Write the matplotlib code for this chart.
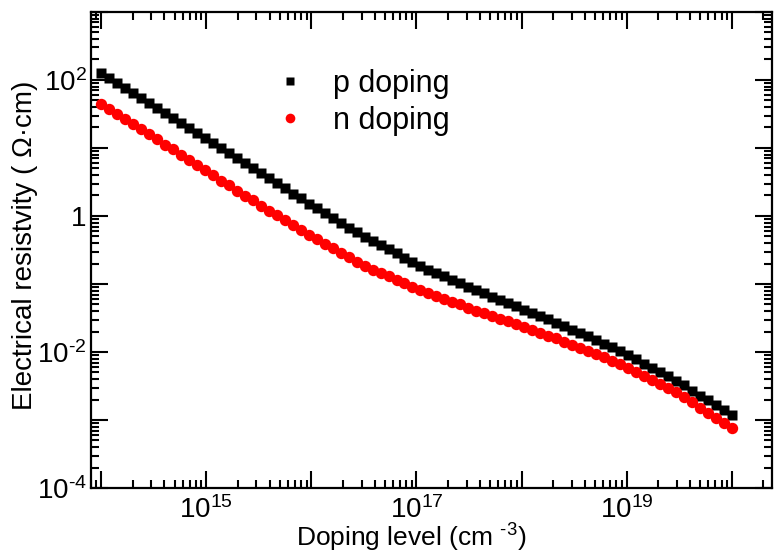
import numpy as np
import matplotlib
matplotlib.use("Agg")
import matplotlib.pyplot as plt
from matplotlib.ticker import FixedLocator, LogLocator, NullFormatter

plt.rcParams["font.family"] = ["Liberation Sans", "DejaVu Sans"]
plt.rcParams["mathtext.fontset"] = "custom"
plt.rcParams["mathtext.rm"] = "Liberation Sans"
plt.rcParams["mathtext.it"] = "Liberation Sans"

# doping grid: 80 points, 1e14 .. 1e20 (cm^-3)
doping = np.logspace(14, 20, 80)

# log10 of resistivity (Ohm cm)
p_log_rho = [
    2.10, 2.03, 1.95, 1.88, 1.81, 1.74, 1.66, 1.59, 1.51, 1.44,
    1.37, 1.29, 1.22, 1.14, 1.07, 1.00, 0.92, 0.85, 0.78, 0.70,
    0.63, 0.56, 0.48, 0.41, 0.33, 0.26, 0.18, 0.11, 0.04, -0.03,
    -0.10, -0.17, -0.24, -0.31, -0.37, -0.43, -0.49, -0.55, -0.62, -0.68,
    -0.74, -0.79, -0.84, -0.89, -0.94, -0.99, -1.05, -1.09, -1.14, -1.19,
    -1.24, -1.28, -1.33, -1.38, -1.42, -1.47, -1.52, -1.57, -1.62, -1.67,
    -1.72, -1.77, -1.83, -1.88, -1.93, -1.99, -2.04, -2.10, -2.17, -2.23,
    -2.30, -2.36, -2.42, -2.49, -2.57, -2.64, -2.71, -2.78, -2.86, -2.93,
]
n_log_rho = [
    1.65, 1.58, 1.50, 1.43, 1.35, 1.28, 1.20, 1.13, 1.05, 0.98,
    0.90, 0.83, 0.75, 0.67, 0.60, 0.52, 0.45, 0.37, 0.30, 0.23,
    0.15, 0.08, 0.01, -0.06, -0.13, -0.21, -0.28, -0.34, -0.41, -0.47,
    -0.54, -0.60, -0.67, -0.73, -0.79, -0.84, -0.89, -0.94, -0.99, -1.04,
    -1.09, -1.13, -1.18, -1.22, -1.26, -1.30, -1.35, -1.39, -1.43, -1.47,
    -1.51, -1.55, -1.59, -1.63, -1.68, -1.72, -1.76, -1.80, -1.85, -1.89,
    -1.94, -1.99, -2.03, -2.08, -2.13, -2.18, -2.23, -2.29, -2.35, -2.41,
    -2.47, -2.53, -2.59, -2.66, -2.74, -2.82, -2.89, -2.97, -3.04, -3.12,
]

x_tick_labels = {15: r"$\mathregular{10^{15}}$", 17: r"$\mathregular{10^{17}}$",
                 19: r"$\mathregular{10^{19}}$"}
y_tick_labels = {2: r"$\mathregular{10^{2}}$", 0: "1",
                 -2: r"$\mathregular{10^{\text{-}2}}$",
                 -4: r"$\mathregular{10^{\text{-}4}}$"}

fig = plt.figure(figsize=(7.74, 5.55), dpi=100)
ax = fig.add_axes([0.1176, 0.1207, 0.8794, 0.8578])

ax.plot(doping, 10 ** np.array(p_log_rho), "s", color="black", ms=7.3,
        mec="none", label="p doping")
ax.plot(doping, 10 ** np.array(n_log_rho), "o", color="red", ms=8.2,
        mec="none", label="n doping")

ax.set_xscale("log")
ax.set_yscale("log")
ax.set_xlim(8.0e13, 2.4e20)
ax.set_ylim(1e-4, 1e3)

xdec = np.arange(14, 21)
ax.xaxis.set_major_locator(FixedLocator(10.0 ** xdec))
ax.set_xticklabels([x_tick_labels.get(d, "") for d in xdec])
ydec = np.arange(-4, 4)
ax.yaxis.set_major_locator(FixedLocator(10.0 ** ydec))
ax.set_yticklabels([y_tick_labels.get(d, "") for d in ydec])
for axis in (ax.xaxis, ax.yaxis):
    axis.set_minor_locator(LogLocator(base=10, subs=np.arange(2, 10), numticks=30))
    axis.set_minor_formatter(NullFormatter())

ax.tick_params(which="both", direction="in", top=True, right=True,
               width=1.5, labelsize=20)
ax.tick_params(which="major", length=12)
ax.tick_params(which="minor", length=6)
ax.tick_params(axis="x", which="major", pad=6)
ax.tick_params(axis="y", which="major", pad=3)
for s in ax.spines.values():
    s.set_linewidth(1.6)

ax.set_xlabel(r"Doping level (cm $\mathregular{^{\text{-}3}}$)", fontsize=19,
              va="top")
ax.xaxis.set_label_coords(0.471, -0.072)
ax.set_ylabel("Electrical resistvity ( \u03a9\u00b7cm)", fontsize=20)
ax.yaxis.set_label_coords(-0.078, 0.51)

ax.legend(loc="upper left", bbox_to_anchor=(0.23, 0.938), frameon=False,
          fontsize=22, handletextpad=0.9, labelspacing=0.23, markerscale=0.85,
          handlelength=1.0)

fig.savefig("out.png", dpi=100)
